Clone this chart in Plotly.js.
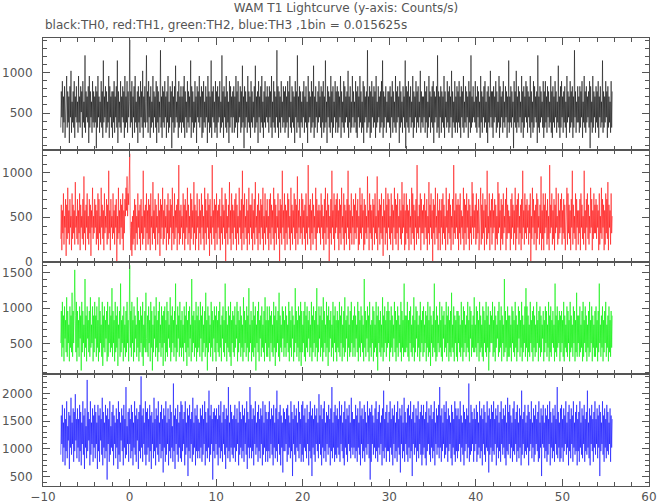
<!DOCTYPE html>
<html>
<head>
<meta charset="utf-8">
<script src="https://cdn.plot.ly/plotly-3.0.1.min.js"></script>
<style>html,body{margin:0;padding:0;background:#fff;}#chart{width:657px;height:504px;}</style>
</head>
<body>
<div id="chart"></div>
<script>
// Bin width (s) and time span of the lightcurve
var BIN = 0.015625;
var T_START = -7.95;
var T_END = 55.75;

// Counts per bin, TH0 (black)
var countsTH0 = [
5,12,7,14,4,11,6,13,3,10,8,15,5,12,6,11,2,13,7,16,4,10,6,12,5,14,3,11,7,13,6,10,
4,15,6,11,5,13,8,12,3,14,6,10,5,19,4,12,7,11,6,13,2,15,5,12,7,10,4,14,6,12,5,11,
6,13,1,12,5,15,7,11,4,10,6,14,5,12,3,18,6,11,7,13,4,12,5,10,6,15,3,13,7,11,5,12,
3,12,6,14,4,11,7,13,5,18,2,12,6,10,5,14,4,11,7,13,6,12,3,15,5,11,6,14,4,12,7,10,
22,5,12,6,14,3,11,7,13,4,15,6,10,5,12,2,13,6,11,4,14,7,12,5,16,3,11,6,13,5,10,19,
6,12,4,14,7,11,3,13,5,10,6,15,4,12,7,11,5,14,2,13,6,12,4,10,7,20,5,11,3,13,6,12,
5,14,7,11,3,12,6,15,4,10,5,13,7,12,1,14,6,11,4,13,5,17,7,10,6,12,3,14,5,11,6,13,
4,11,6,13,5,15,3,12,7,10,4,14,6,12,5,11,7,18,3,13,6,12,4,10,5,14,6,11,2,13,7,12,
6,15,5,11,7,13,3,12,4,14,6,10,5,13,7,11,2,15,6,12,4,11,5,18,3,12,7,13,6,10,4,14,
5,12,3,13,6,11,7,14,4,10,5,19,6,12,3,13,7,11,5,15,4,12,6,10,2,14,5,13,7,11,4,12,
7,13,4,11,5,15,6,12,3,14,6,10,7,13,4,12,5,17,6,11,1,13,5,12,7,10,4,15,6,12,5,11,
3,14,6,12,5,10,7,13,4,17,5,11,6,12,2,14,7,11,4,13,6,15,5,10,3,12,6,14,5,11,7,13,
6,11,4,13,7,12,5,15,3,10,6,14,5,12,4,11,7,20,5,13,3,12,6,11,4,14,7,10,5,13,6,12,
4,13,5,11,6,14,3,12,7,15,5,10,4,13,6,12,5,11,2,14,7,12,4,19,6,11,5,13,3,12,6,10,
5,12,7,14,4,11,6,13,5,10,2,15,6,12,7,11,4,14,5,12,6,17,3,11,5,13,7,10,4,12,6,14,
7,11,5,13,3,12,6,14,4,11,5,18,6,10,2,13,7,12,5,11,4,15,6,12,3,13,5,10,7,14,4,12,
6,13,4,12,5,11,7,15,3,12,6,10,5,14,4,13,6,11,7,12,5,16,3,11,6,13,4,10,5,15,7,12,
5,10,6,14,4,12,3,13,7,11,5,15,6,12,4,10,5,14,2,13,6,11,7,12,4,20,5,11,6,13,3,12,
4,14,7,11,5,13,6,12,3,15,5,10,6,13,7,11,4,12,5,14,6,18,3,12,5,11,7,13,4,10,6,12,
6,12,5,13,3,11,7,14,4,12,6,10,5,15,4,12,6,13,7,11,2,14,5,12,6,10,4,13,7,11,5,18,
1,13,6,12,5,14,4,11,7,13,5,10,6,15,3,12,5,11,7,14,4,12,6,13,5,10,7,16,4,12,6,11,
5,11,7,14,4,12,6,13,3,10,5,15,7,12,4,11,6,13,5,14,2,12,6,11,7,13,4,19,5,12,3,11,
7,13,4,12,6,11,5,15,3,12,7,10,5,14,6,12,4,13,5,11,7,16,3,12,6,10,5,14,4,11,6,13,
4,12,6,14,5,11,3,13,7,12,5,15,4,10,6,13,5,12,7,11,3,14,6,12,4,19,5,11,6,13,7,10,
6,14,5,11,4,13,7,12,5,10,3,15,6,12,4,11,7,13,5,14,6,10,4,12,2,13,6,11,5,16,7,12,
5,12,3,13,6,11,7,14,4,12,5,10,6,15,3,13,5,11,7,12,4,14,6,10,5,13,7,12,3,11,6,18,
4,11,6,13,5,12,7,10,1,14,6,12,5,16,4,11,6,13,5,12,7,10,4,15,6,12,3,13,5,11,7,14,
6,13,4,12,7,11,5,15,3,12,6,10,4,14,5,13,7,11,6,12,2,19,5,11,4,13,6,12,7,10,5,14,
3,12,5,14,6,11,4,13,7,12,5,10,6,15,4,12,3,13,6,11,5,14,7,12,4,10,6,17,5,11,3,13,
5,14,7,11,4,12,6,13,5,10,3,15,6,12,7,11,4,14,5,12,6,13,3,11,5,20,7,12,4,10,6,13,
6,11,4,13,5,12,7,14,3,10,6,15,5,12,4,13,6,11,7,12,5,14,1,13,6,10,4,15,5,12,7,11,
4,13,6,12,5,14,3,11,7,13,5,10,6,18,4,12,5,11,6,14,7,12,3,13,5,11,6,10,4,14,5,12
];

// Counts per bin, TH1 (red)
var countsTH1 = [
4,10,2,9,5,12,3,8,6,11,1,10,4,13,5,9,3,11,6,8,2,12,4,10,5,9,3,14,6,8,4,11,
3,9,5,12,2,10,6,8,4,11,3,15,5,9,2,10,6,12,4,8,3,11,5,10,1,9,6,13,4,8,5,11,
6,10,3,9,4,12,2,11,5,8,3,13,6,10,4,9,2,12,5,8,6,11,3,10,4,16,5,9,2,11,6,8,
4,12,5,9,3,10,6,11,0,8,4,13,5,9,3,11,6,10,4,12,2,9,5,11,8,13,9,15,8,12,10,14,
19,6,2,7,1,8,3,9,4,11,2,10,5,8,3,12,6,9,4,10,2,11,5,8,3,16,4,9,6,10,2,12,
5,9,3,11,4,10,2,12,6,8,3,14,5,9,4,11,2,10,6,8,3,12,5,9,1,11,4,10,6,13,3,9,
4,11,6,8,2,10,5,12,3,9,4,11,6,10,2,13,5,8,3,12,4,9,6,10,2,11,5,17,3,9,4,10,
6,8,3,12,5,10,2,11,4,9,6,13,3,10,5,8,2,12,4,11,6,9,3,14,5,10,2,9,4,12,6,8,
2,11,5,9,3,12,6,10,4,8,2,13,5,11,3,9,6,12,4,10,1,11,5,8,3,17,6,9,4,11,2,10,
5,12,3,9,6,10,4,11,2,8,5,13,3,10,6,9,4,12,0,11,5,8,3,10,6,14,4,9,2,12,5,10,
3,9,6,11,4,12,2,10,5,8,3,13,6,9,4,11,2,16,5,10,3,12,6,8,4,11,2,9,5,13,3,10,
6,10,4,12,2,9,5,11,3,14,6,8,4,10,2,12,5,9,3,11,6,10,4,13,2,8,5,12,3,9,6,11,
4,8,2,11,5,12,3,10,6,9,4,13,2,11,5,10,3,8,6,12,4,9,0,11,5,10,3,16,6,9,4,12,
2,10,5,9,3,12,6,11,4,8,2,13,5,10,3,9,6,12,4,11,2,10,5,15,3,9,6,11,4,8,5,12,
3,11,6,9,4,10,2,12,5,8,3,17,6,10,4,11,2,9,5,12,3,10,6,8,4,13,2,11,5,9,6,10,
5,9,3,12,6,10,4,8,2,11,5,13,3,9,6,12,4,10,0,8,5,11,3,16,6,9,4,12,2,10,5,11,
6,12,4,9,2,11,5,10,3,13,6,8,4,12,2,10,5,9,3,11,6,16,4,10,2,9,5,12,3,8,6,11,
3,10,5,12,4,9,6,11,2,8,3,13,5,10,4,12,6,9,2,11,3,10,5,8,4,15,6,9,2,12,5,10,
4,9,2,11,6,10,3,12,5,8,4,15,2,9,6,11,3,10,5,12,4,8,1,11,6,9,3,13,5,10,2,12,
6,11,4,8,3,12,5,10,2,9,6,13,4,11,3,10,5,12,2,8,6,11,4,9,3,14,5,10,6,12,2,9,
3,12,5,10,4,9,2,11,6,8,3,13,5,12,4,10,2,9,6,11,3,17,5,8,4,10,6,12,2,11,5,9,
5,10,3,12,6,9,4,11,2,8,5,14,3,10,6,12,4,9,0,11,5,10,3,13,6,8,4,12,2,9,5,11,
2,9,6,11,3,12,5,10,4,8,2,13,6,9,3,11,5,12,4,10,2,8,6,11,3,17,5,9,4,12,6,10,
4,11,2,10,5,12,3,9,6,8,4,13,2,11,5,10,3,12,6,9,4,11,2,10,5,8,3,14,6,12,4,9,
6,10,3,12,4,9,5,11,2,8,6,13,3,10,4,12,5,9,2,11,6,10,3,16,4,8,5,12,2,9,6,11,
3,12,5,9,6,11,2,10,4,8,3,14,5,12,6,9,2,11,4,10,3,12,5,8,6,11,2,13,4,10,5,9,
5,8,2,11,4,12,6,10,3,9,5,13,2,10,4,11,6,12,3,8,5,10,2,11,4,16,6,9,3,12,5,10,
4,11,6,9,3,10,5,12,0,8,4,13,6,11,3,9,5,10,2,12,4,11,6,8,3,10,5,15,2,9,4,12,
2,10,5,12,6,9,3,11,4,8,2,17,5,10,6,12,3,9,4,11,2,10,5,13,6,8,3,12,4,9,5,11,
6,12,3,9,5,11,4,10,2,8,6,13,3,12,5,10,4,9,2,11,6,16,3,10,5,8,4,12,2,11,6,9,
3,9,5,11,2,12,6,10,4,8,3,16,5,9,2,11,6,12,4,10,3,8,5,13,6,11,2,9,4,12,5,10,
5,11,4,10,6,9,2,12,3,8,5,13,4,11,6,10,2,9,3,12,5,11,4,14,2,10,6,9,3,12,5,8
];

// Counts per bin, TH2 (green)
var countsTH2 = [
8,15,5,17,7,14,4,16,9,13,6,18,5,15,8,12,4,16,7,14,6,19,5,15,8,13,24,14,6,17,4,15,
7,13,5,16,9,14,2,17,6,15,8,12,5,22,7,14,4,16,9,13,6,15,5,18,7,12,8,16,4,14,6,17,
9,14,5,16,7,13,4,18,6,15,8,12,5,17,3,14,7,16,6,13,9,15,4,17,5,12,8,16,6,14,7,20,
5,15,8,13,4,17,6,14,7,16,3,12,9,15,5,21,6,13,8,14,4,16,7,12,5,15,6,17,8,13,4,14,
25,7,15,5,17,8,13,4,16,6,14,9,12,5,18,7,15,4,13,6,16,8,14,5,17,3,12,7,15,6,19,9,
6,14,5,16,8,13,4,17,7,15,2,12,6,16,9,14,5,18,7,13,4,15,6,17,8,12,5,16,7,14,3,15,
8,16,4,13,6,17,5,15,9,12,7,18,4,14,6,16,8,13,5,15,7,21,4,12,6,16,9,14,5,17,7,13,
5,15,7,12,4,16,8,14,6,17,3,13,7,15,5,16,9,12,4,22,6,14,8,15,5,13,7,17,4,14,6,16,
7,13,5,17,9,14,4,16,6,12,8,15,5,19,7,13,2,16,6,14,8,12,5,17,7,15,4,13,9,16,6,14,
4,16,8,13,6,15,5,17,7,12,4,14,9,16,6,13,5,21,8,15,4,12,7,16,6,14,5,17,3,13,8,15,
6,14,5,16,7,12,9,17,4,15,6,13,8,16,5,14,7,12,4,18,6,15,8,13,5,16,7,14,4,20,6,12,
8,15,4,13,6,17,5,14,7,16,2,12,8,15,6,17,4,13,9,14,5,16,7,12,6,15,4,18,8,13,5,16,
5,13,7,16,4,14,8,15,6,12,5,17,7,14,3,16,6,13,8,15,5,19,4,14,7,12,6,16,9,15,5,13,
7,16,5,14,8,12,6,17,4,15,7,13,5,16,9,14,4,12,6,20,8,15,5,13,7,16,4,14,6,17,3,15,
6,12,8,15,5,17,4,14,7,16,6,13,9,15,5,12,7,17,4,14,6,16,8,13,5,15,7,20,4,12,6,16,
9,14,5,16,7,13,4,18,6,15,8,12,5,17,7,14,3,16,6,13,9,15,5,12,7,17,4,14,8,16,6,13,
4,15,7,13,6,17,5,14,8,16,4,12,7,15,5,18,6,13,9,14,4,16,7,12,5,15,6,17,8,13,5,14,
7,16,5,14,9,12,6,17,4,15,7,13,5,16,8,14,6,12,4,22,7,15,5,13,9,16,6,14,4,17,7,12,
5,13,8,16,4,15,6,12,7,17,5,14,2,16,8,13,6,15,5,12,7,18,4,14,6,16,8,13,5,15,7,17,
8,15,4,13,6,16,7,14,5,12,9,17,6,15,4,13,7,16,5,14,8,12,6,17,4,15,7,13,5,21,6,14,
6,14,7,17,5,13,4,15,8,16,6,12,5,14,7,18,4,13,6,16,9,15,5,12,7,14,4,17,6,13,8,15,
5,16,6,12,8,15,4,14,7,17,5,13,6,16,3,14,8,12,5,15,7,21,6,13,4,16,5,14,8,12,6,17,
7,13,5,16,4,14,9,15,6,12,7,17,5,14,8,16,4,13,6,15,5,19,7,12,6,16,4,14,8,13,5,15,
4,15,8,14,6,12,5,17,7,13,4,16,6,15,8,12,5,14,7,17,6,13,4,16,9,15,5,12,7,14,6,18,
6,12,7,16,5,15,8,13,4,17,6,14,7,12,5,16,4,15,8,13,6,17,5,14,7,16,2,12,6,15,8,14,
8,17,5,13,6,16,4,14,7,12,9,15,5,17,6,13,7,16,4,14,8,12,5,22,6,15,7,13,4,16,5,14,
5,14,7,12,4,16,8,15,6,13,5,17,7,14,4,12,6,16,9,15,5,13,7,17,4,14,6,12,8,16,5,20,
7,16,4,14,6,12,5,17,8,13,6,15,4,16,7,14,5,12,6,17,8,13,4,15,7,16,5,14,6,12,9,15,
4,13,6,16,8,15,5,12,7,17,4,14,6,16,5,13,8,15,7,12,4,21,6,14,5,16,7,13,8,15,4,14,
6,15,8,13,5,17,4,14,7,12,6,16,5,15,8,13,4,17,6,14,7,12,5,16,8,15,4,13,6,19,5,14,
8,14,5,16,6,12,7,15,4,17,5,13,8,16,6,14,4,12,7,15,5,17,6,13,8,16,4,14,7,12,5,15,
5,16,7,13,4,15,6,21,8,12,5,14,7,16,4,13,6,15,8,17,5,12,7,14,4,16,6,13,5,15,7,14
];

// Counts per bin, TH3 (blue)
var countsTH3 = [
14,25,17,28,12,23,16,27,11,24,15,29,13,22,18,26,10,25,16,30,14,23,17,27,12,26,15,31,18,24,13,27,
16,24,12,28,15,26,11,23,17,29,14,25,10,27,16,22,13,35,15,26,18,24,11,29,14,23,17,27,12,25,16,28,
13,26,17,23,10,28,15,25,12,27,18,24,14,30,11,26,16,23,13,28,15,25,7,27,17,24,12,29,14,22,16,26,
15,28,11,25,17,23,13,27,16,24,10,29,14,26,12,23,18,27,15,25,11,28,16,24,13,33,14,22,17,26,12,27,
17,24,13,28,15,26,11,23,16,29,14,25,12,27,18,24,10,26,15,28,13,36,16,25,12,27,17,23,14,29,11,26,
14,27,16,24,12,28,15,25,10,26,17,23,13,30,15,24,11,27,16,25,14,29,12,23,17,26,13,28,15,24,9,27,
16,25,12,29,14,23,17,27,11,24,15,28,13,26,16,22,12,34,15,25,10,27,17,24,14,28,12,23,16,26,13,29,
12,28,15,24,17,26,11,29,14,23,16,27,8,25,15,28,13,24,17,26,12,30,14,23,16,27,11,25,15,28,13,24,
15,23,13,27,16,25,12,28,14,24,17,29,11,26,15,23,13,27,16,32,12,25,14,28,17,24,7,26,15,27,13,25,
17,27,14,24,11,28,16,25,13,29,15,23,12,26,17,28,14,24,10,27,16,25,13,33,15,23,12,28,16,26,14,24,
13,25,16,28,12,24,15,27,17,23,11,29,14,26,16,24,13,28,15,25,12,27,17,23,14,29,10,26,16,24,13,33,
16,28,13,24,15,27,11,25,17,29,14,23,16,26,12,28,15,24,13,27,17,25,11,29,14,23,16,28,12,26,15,24,
12,26,15,29,13,24,17,27,14,25,11,28,16,23,13,27,15,32,12,24,17,26,14,28,11,25,16,23,9,27,15,26,
15,24,17,27,12,28,14,25,16,23,13,29,15,26,8,24,17,28,14,25,12,27,16,23,15,29,13,26,17,24,12,28,
14,29,12,25,16,27,15,23,13,28,17,24,11,26,15,29,13,25,8,27,16,24,14,28,12,25,17,27,15,23,13,31,
17,25,14,28,11,24,16,27,13,29,15,23,12,26,17,25,14,28,16,24,11,27,15,33,13,23,16,26,12,28,14,25,
13,27,16,24,14,29,12,25,17,28,15,23,13,26,11,29,16,24,14,27,12,25,17,28,15,23,13,30,16,26,14,24,
16,24,13,28,15,25,12,27,16,23,14,29,11,25,17,27,13,24,15,28,12,26,16,23,14,29,17,25,13,27,7,26,
12,28,17,25,14,23,16,27,13,29,15,24,12,26,16,28,14,23,17,25,11,27,15,32,13,24,16,26,12,28,15,23,
15,26,12,29,16,24,14,27,11,25,17,28,13,23,15,26,12,29,16,24,14,27,9,25,17,28,13,23,15,30,12,26,
17,23,14,27,12,28,16,25,13,29,15,24,8,26,17,28,14,23,16,27,12,25,15,29,13,24,17,26,14,28,11,25,
14,28,16,24,13,26,11,29,15,23,17,27,14,25,12,28,16,24,13,26,15,29,11,23,17,27,14,25,16,28,13,33,
16,25,12,27,15,23,17,28,13,26,14,29,16,24,12,27,15,25,17,23,13,28,11,26,16,24,14,29,12,27,15,25,
13,27,15,24,17,29,12,25,16,23,14,28,11,26,15,24,17,27,13,25,16,34,12,23,14,28,15,26,17,24,12,27,
15,24,17,28,12,26,14,23,16,29,13,25,15,27,11,24,17,28,14,26,12,23,16,29,15,25,9,27,14,24,16,28,
12,26,15,29,14,24,17,27,11,25,16,28,13,23,15,26,12,29,17,24,14,27,16,25,13,28,11,23,15,30,14,26,
17,28,13,25,16,23,12,27,15,29,14,24,17,26,12,28,15,23,13,27,16,25,11,32,14,24,17,26,13,28,15,23,
14,25,16,28,11,26,15,24,17,29,13,23,16,27,12,25,14,28,17,24,15,26,12,29,13,23,16,27,8,25,17,28,
16,23,13,27,15,25,12,28,14,24,17,29,11,26,16,23,13,27,15,25,12,28,17,24,14,33,13,26,16,23,12,27,
13,28,16,24,12,27,15,25,17,29,14,23,16,26,11,28,15,24,13,27,17,25,12,29,16,23,14,26,15,28,11,24,
15,26,12,29,16,23,14,27,13,25,17,28,12,24,15,26,14,32,16,23,13,27,11,25,17,28,15,24,12,26,16,29,
14,24,17,27,13,25,16,28,8,26,15,23,17,29,14,25,12,27,16,24,13,28,15,26,14,23,17,27,12,25,16,24
];

var channels = [countsTH0, countsTH1, countsTH2, countsTH3];
var colors = ['rgba(0,0,0,0.55)', 'rgba(255,0,0,0.55)', 'rgba(0,240,0,0.6)', 'rgba(0,0,255,0.55)'];
var yRanges = [[41, 1432], [-5, 1258], [79, 1646], [333, 2347]];
var xRange = [-10, 60];

var AX = '#555';
var traces = channels.map(function (c, k) {
  return {
    type: 'scatter', mode: 'lines',
    x0: T_START, dx: (T_END - T_START) / (c.length - 1),
    y: c.map(function (v) { return v / BIN; }),
    xaxis: k === 0 ? 'x' : 'x' + (k + 1),
    yaxis: k === 0 ? 'y' : 'y' + (k + 1),
    line: { color: colors[k], width: 1 },
    hoverinfo: 'skip', showlegend: false
  };
});

var layout = {
  width: 657, height: 504,
  margin: { l: 43, r: 8, t: 38, b: 18, pad: 0 },
  paper_bgcolor: '#fff', plot_bgcolor: '#fff',
  font: { family: 'DejaVu Sans', size: 12, color: AX },
  title: { text: 'WAM T1 Lightcurve (y-axis: Counts/s)', x: 0.5, xref: 'paper', xanchor: 'center',
           y: 1 - 8 / 504, yref: 'container', yanchor: 'middle', font: { size: 12, color: AX } },
  annotations: [{
    text: 'black:TH0, red:TH1, green:TH2, blue:TH3 ,1bin = 0.015625s',
    xref: 'paper', yref: 'paper', x: 0, y: 1 + 12.5 / 448, xanchor: 'left', yanchor: 'middle',
    showarrow: false, font: { size: 12, color: AX }
  }]
};

for (var k = 0; k < 4; k++) {
  var xs = k === 0 ? 'xaxis' : 'xaxis' + (k + 1);
  var ys = k === 0 ? 'yaxis' : 'yaxis' + (k + 1);
  var yid = k === 0 ? 'y' : 'y' + (k + 1);
  var dTop = 1 - k * 0.25, dBot = 1 - (k + 1) * 0.25;
  layout[xs] = {
    anchor: yid, range: xRange, dtick: 10, tick0: 0,
    showticklabels: k === 3, ticks: 'inside', ticklen: 7, tickcolor: AX, tickwidth: 1,
    minor: { dtick: 2, ticks: 'inside', ticklen: 4, tickcolor: AX, showgrid: false },
    showline: true, linecolor: AX, linewidth: 1, mirror: 'ticks',
    showgrid: false, zeroline: false, fixedrange: true,
    tickfont: { size: 12, color: AX }
  };
  if (k > 0) layout[xs].matches = 'x';
  layout[ys] = {
    anchor: k === 0 ? 'x' : 'x' + (k + 1), domain: [dBot, dTop], range: yRanges[k],
    dtick: 500, tick0: 0, ticks: 'inside', ticklen: 7, tickcolor: AX, tickwidth: 1,
    minor: { dtick: 100, ticks: 'inside', ticklen: 4, tickcolor: AX, showgrid: false },
    showline: true, linecolor: AX, linewidth: 1, mirror: 'ticks',
    showgrid: false, zeroline: false, fixedrange: true,
    tickfont: { size: 12, color: AX }, ticklabelstandoff: 7
  };
}

Plotly.newPlot('chart', traces, layout, { staticPlot: true, displayModeBar: false });
</script>
</body>
</html>
